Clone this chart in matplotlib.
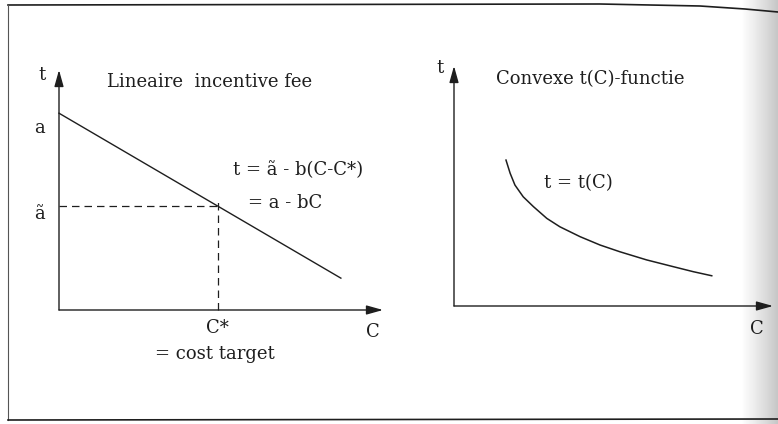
import numpy as np
import matplotlib
matplotlib.use("Agg")
import matplotlib.pyplot as plt

# ---- data (units) ----
a_val = 8.2          # intercept a
b_val = 0.79         # slope b
c_star = 4.9         # cost target C*
c_end = 8.7          # end of linear line
a_tilde = a_val - b_val * c_star

curve_C = [1.63, 1.76, 1.91, 2.17, 2.49, 2.91, 3.32, 3.95, 4.58, 5.20, 6.04, 6.87, 7.50, 8.08]
curve_t = [6.08, 5.53, 5.04, 4.55, 4.14, 3.65, 3.30, 2.89, 2.54, 2.26, 1.92, 1.64, 1.43, 1.26]

left_title = "Lineaire  incentive fee"
right_title = "Convexe t(C)-functie"
eq1 = "t = ã - b(C-C*)"
eq2 = "= a - bC"

W, H = 778, 424
ink = "#1e1e1e"
plt.rcParams['font.family'] = ['DejaVu Serif', 'Liberation Serif']
FS = 13

fig = plt.figure(figsize=(W / 100, H / 100), dpi=100)
bg = fig.add_axes([0, 0, 1, 1])
bg.set_xlim(0, W)
bg.set_ylim(H, 0)
bg.axis("off")

# page shading at right edge
grad = np.linspace(0, 1, 200) ** 0.8
img = np.tile(grad, (10, 1))
bg.imshow(img, extent=(742, W, H, 0), cmap="Greys", vmin=0, vmax=3.0,
          aspect="auto", zorder=0, alpha=1)

# frame
bg.plot([8, 600, 700, 745, W], [5, 4, 6, 9, 12], color=ink, lw=1.2, zorder=2)
bg.plot([8, 8], [5, 420], color="#555555", lw=0.8, zorder=2)
bg.plot([8, W], [420, 419], color=ink, lw=1.2, zorder=2)


def panel(px0, px1, py_top, py_bot):
    ax = fig.add_axes([px0 / W, 1 - py_bot / H, (px1 - px0) / W, (py_bot - py_top) / H])
    ax.set_xlim(0, 10)
    ax.set_ylim(0, 10)
    ax.axis("off")
    arrow = dict(arrowstyle="-|>,head_length=1.0,head_width=0.28", lw=1.0,
                 color=ink, mutation_scale=10, shrinkA=0, shrinkB=0)
    ax.annotate("", xy=(10, 0), xytext=(0, 0), arrowprops=arrow, annotation_clip=False)
    ax.annotate("", xy=(0, 10), xytext=(0, 0), arrowprops=arrow, annotation_clip=False)
    return ax


# ---- left panel ----
axl = panel(59, 383, 70, 310)
cl = np.array([0, c_end])
axl.plot(cl, a_val - b_val * cl, color=ink, lw=1.0, clip_on=False)
axl.plot([0, c_star], [a_tilde, a_tilde], color=ink, lw=0.9, ls=(0, (6, 4)), clip_on=False)
axl.plot([c_star, c_star], [0, a_tilde + 0.3], color=ink, lw=0.9, ls=(0, (6, 4)), clip_on=False)

bg.text(42, 80, "t", fontsize=FS, color=ink, ha="center", va="baseline")
bg.text(40, 133, "a", fontsize=FS, color=ink, ha="center", va="baseline")
bg.text(40, 219, "ã", fontsize=FS, color=ink, ha="center", va="baseline")
bg.text(107, 87, left_title, fontsize=FS, color=ink, ha="left", va="baseline")
bg.text(233, 175, eq1, fontsize=FS, color=ink, ha="left", va="baseline")
bg.text(248, 208, eq2, fontsize=FS, color=ink, ha="left", va="baseline")
bg.text(217, 333, "C*", fontsize=FS, color=ink, ha="center", va="baseline")
bg.text(373, 337, "C", fontsize=FS, color=ink, ha="center", va="baseline")
bg.text(215, 359, "= cost target", fontsize=FS, color=ink, ha="center", va="baseline")

# ---- right panel ----
axr = panel(454, 773, 66, 306)
axr.plot(curve_C, curve_t, color=ink, lw=1.1, clip_on=False, solid_joinstyle="round")
bg.text(440, 73, "t", fontsize=FS, color=ink, ha="center", va="baseline")
bg.text(496, 84, right_title, fontsize=FS, color=ink, ha="left", va="baseline")
bg.text(544, 188, "t = t(C)", fontsize=FS, color=ink, ha="center" if False else "left", va="baseline")
bg.text(757, 334, "C", fontsize=FS, color=ink, ha="center", va="baseline")

fig.savefig("out.png", dpi=100)
